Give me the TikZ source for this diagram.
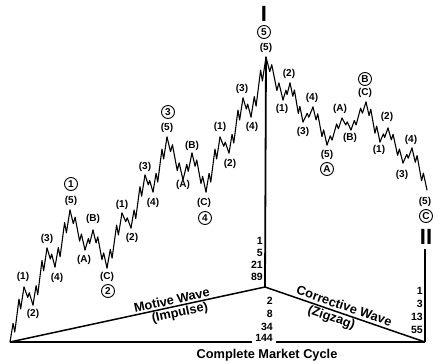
\documentclass[tikz,border=0pt]{standalone}
\usepackage{fontspec}
\setmainfont{Liberation Sans}
\usetikzlibrary{calc}
\newcommand\wleg[3]{%
 \ifnum#3=5\relax
  \draw[wave] let \p1=(#1), \p2=(#2) in (\p1)
   -- ({\x1+0.22*(\x2-\x1)},{\y1+0.34*(\y2-\y1)})
   -- ({\x1+0.34*(\x2-\x1)},{\y1+0.18*(\y2-\y1)})
   -- ({\x1+0.64*(\x2-\x1)},{\y1+0.78*(\y2-\y1)})
   -- ({\x1+0.76*(\x2-\x1)},{\y1+0.60*(\y2-\y1)})
   -- (\p2);
 \else
  \draw[wave] let \p1=(#1), \p2=(#2) in (\p1)
   -- ({\x1+0.42*(\x2-\x1)},{\y1+0.58*(\y2-\y1)})
   -- ({\x1+0.58*(\x2-\x1)},{\y1+0.32*(\y2-\y1)})
   -- (\p2);
 \fi}
\tikzset{
 wave/.style={line width=1.1pt, line join=round, line cap=round},
 axisline/.style={line width=1.5pt},
 lab/.style={font=\fontsize{10}{11}\selectfont\bfseries, inner sep=0pt},
 clab/.style={circle, draw, line width=0.9pt, font=\fontsize{10}{11}\selectfont\bfseries, inner sep=0pt, minimum size=13pt},
 num/.style={font=\fontsize{10.5}{11}\selectfont\bfseries, inner sep=0pt, anchor=east},
 big/.style={font=\fontsize{12.8}{14}\selectfont\bfseries},
 roman/.style={font=\fontsize{22}{24}\selectfont\bfseries, inner sep=0pt}
}
\begin{document}
\begin{tikzpicture}[x=1pt,y=-1pt]
\fill[white] (0,0) rectangle (445,364);
\useasboundingbox (0,0) rectangle (445,364);
% turning points
\coordinate (S) at (10,342);
\coordinate (a1) at (24,287); \coordinate (a2) at (33,305); \coordinate (a3) at (47,248);
\coordinate (a4) at (55,267); \coordinate (P1) at (70,210);
\coordinate (b1) at (85,250); \coordinate (b2) at (93,230); \coordinate (P2) at (107,268);
\coordinate (c1) at (122,213); \coordinate (c2) at (131,228); \coordinate (c3) at (145,175);
\coordinate (c4) at (153,192); \coordinate (P3) at (167,137);
\coordinate (d1) at (183,180); \coordinate (d2) at (192,153); \coordinate (P4) at (206,192);
\coordinate (e1) at (220,137); \coordinate (e2) at (229,153); \coordinate (e3) at (243,98);
\coordinate (e4) at (251,117); \coordinate (P5) at (266,57);
\coordinate (f1) at (283,100); \coordinate (f2) at (290,83); \coordinate (f3) at (303,122);
\coordinate (f4) at (313,107); \coordinate (PA) at (327,145);
\coordinate (g1) at (342,118); \coordinate (g2) at (351,130); \coordinate (PB) at (366,102);
\coordinate (h1) at (380,142); \coordinate (h2) at (388,128); \coordinate (h3) at (403,163);
\coordinate (h4) at (412,148); \coordinate (PC) at (427,190);
\coordinate (O) at (265,287);
\coordinate (R) at (425,249);
\coordinate (E) at (425,342);
% wave
\foreach \a/\b/\t in {S/a1/5,a1/a2/3,a2/a3/5,a3/a4/3,a4/P1/5,
  P1/b1/5,b1/b2/3,b2/P2/5,
  P2/c1/5,c1/c2/3,c2/c3/5,c3/c4/3,c4/P3/5,
  P3/d1/5,d1/d2/3,d2/P4/5,
  P4/e1/5,e1/e2/3,e2/e3/5,e3/e4/3,e4/P5/5,
  P5/f1/5,f1/f2/3,f2/f3/5,f3/f4/3,f4/PA/5,
  PA/g1/5,g1/g2/3,g2/PB/5,
  PB/h1/5,h1/h2/3,h2/h3/5,h3/h4/3,h4/PC/5}{\wleg{\a}{\b}{\t}}
% axes
\draw[axisline, line width=1.8pt] (O) -- (P5);
\draw[axisline] (S) -- node[pos=0.64, sloped, above, inner sep=1.5pt, big] (mw) {Motive Wave}
  node[pos=0.66, sloped, below, inner sep=1pt, big] (imp) {(Impulse)} (O);
\draw[axisline] (O) -- node[pos=0.48, sloped, above, inner sep=2.5pt, big] (cw) {Corrective Wave}
  node[pos=0.43, sloped, below, inner sep=1pt, big] (zz) {(Zigzag)} (E);
\draw[axisline] (R) -- (E);
% numbers
\node[num] (m1) at (263,241) {1};
\node[num] (m5) at (263,253) {5};
\node[num] (m21) at (263,265) {21};
\node[num] (m89) at (263,277) {89};
\node[num] (n2) at (273,301) {2};
\node[num] (n8) at (273,314) {8};
\node[num] (n34) at (273,327) {34};
\node[num] (n144) at (273,338) {144};
\node[num] (r1) at (423,291) {1};
\node[num] (r3) at (423,304) {3};
\node[num] (r13) at (423,317) {13};
\node[num] (r55) at (423,330) {55};
\draw[axisline] (S) -- ([xshift=-3pt]n144.west |- S);
\draw[axisline] ([xshift=3pt]n144.east |- S) -- (E);
\node[big] (title) at (267,355) {Complete Market Cycle};
% roman numerals
\node[roman] (I) at (264,14) {I};
\node[roman] (II) at (426,237) {II};
% labels wave 1
\node[lab] (l1) at (23,277) {(1)};
\node[lab] (l2) at (33,314) {(2)};
\node[lab] (l3) at (47,239) {(3)};
\node[lab] (l4) at (57,278) {(4)};
\node[lab] (l5) at (71,201) {(5)};
\node[clab] (c1l) at (71,184) {1};
\node[lab] (lA1) at (84,260) {(A)};
\node[lab] (lB1) at (93,219) {(B)};
\node[lab] (lC1) at (107,277) {(C)};
\node[clab] (c2l) at (108,291) {2};
\node[lab] (m1l) at (122,205) {(1)};
\node[lab] (m2l) at (132,238) {(2)};
\node[lab] (m3l) at (145,167) {(3)};
\node[lab] (m4l) at (153,203) {(4)};
\node[lab] (m5l) at (167,128) {(5)};
\node[clab] (c3l) at (168,112) {3};
\node[lab] (lA2) at (183,185) {(A)};
\node[lab] (lB2) at (192,146) {(B)};
\node[lab] (lC2) at (204,203) {(C)};
\node[clab] (c4l) at (205,218) {4};
\node[lab] (k1) at (220,127) {(1)};
\node[lab] (k2) at (230,164) {(2)};
\node[lab] (k3) at (242,89) {(3)};
\node[lab] (k4) at (252,127) {(4)};
\node[lab] (k5) at (266,48) {(5)};
\node[clab] (c5l) at (264,32) {5};
\node[lab] (j1) at (282,109) {(1)};
\node[lab] (j2) at (289,74) {(2)};
\node[lab] (j3) at (303,132) {(3)};
\node[lab] (j4) at (312,98) {(4)};
\node[lab] (j5) at (327,155) {(5)};
\node[clab] (cAl) at (327,169) {A};
\node[lab] (lA3) at (340,109) {(A)};
\node[lab] (lB3) at (350,138) {(B)};
\node[lab] (lC3) at (365,93) {(C)};
\node[clab] (cBl) at (365,79) {B};
\node[lab] (i1) at (379,150) {(1)};
\node[lab] (i2) at (387,117) {(2)};
\node[lab] (i3) at (402,175) {(3)};
\node[lab] (i4) at (411,140) {(4)};
\node[lab] (i5) at (425,202) {(5)};
\node[clab] (cCl) at (426,216) {C};
\end{tikzpicture}
\end{document}
